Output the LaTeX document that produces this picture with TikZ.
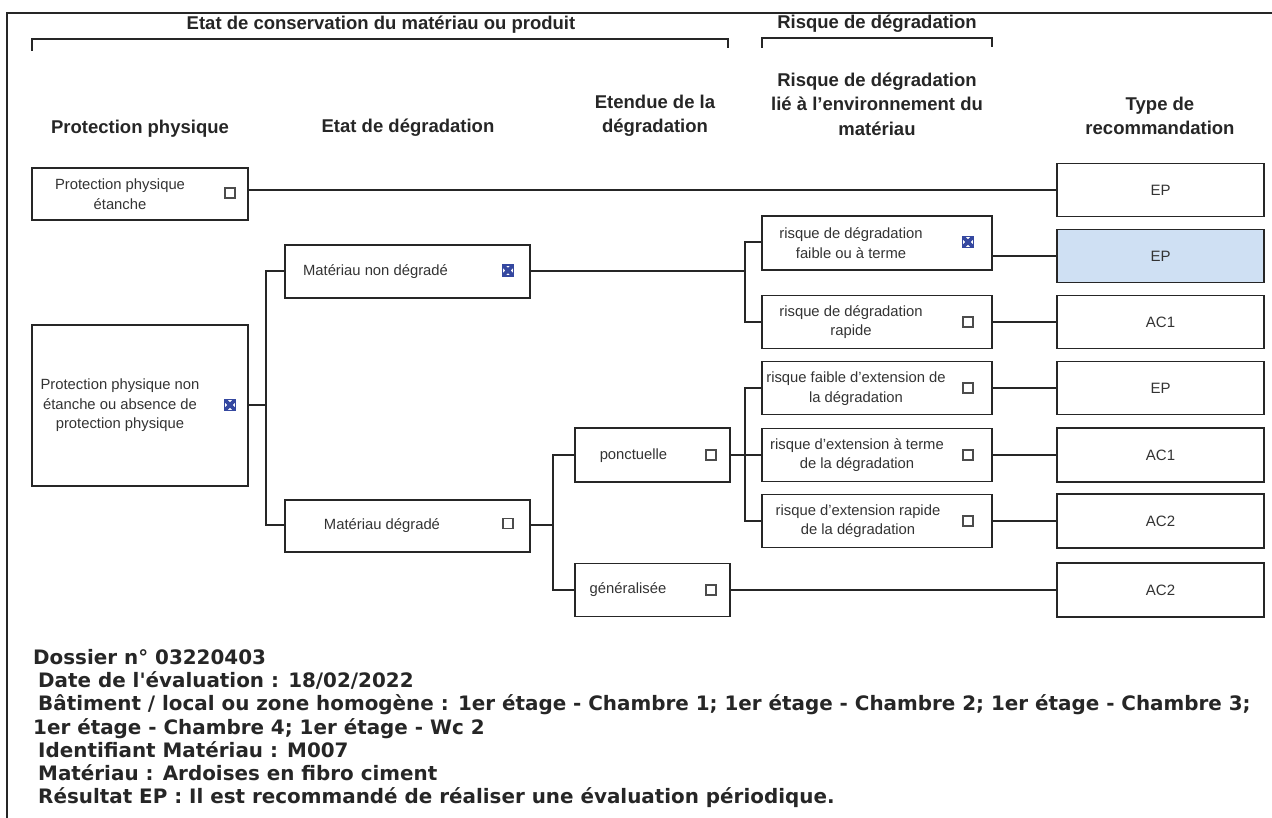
\documentclass[tikz,border=0pt]{standalone}
\usepackage{fontspec}
\setmainfont{Liberation Sans}
\newfontfamily\notefont{DejaVu Sans}
\begin{document}
\begin{tikzpicture}[x=1pt,y=-1pt,
  box/.style={draw=black!85, line width=1.7pt, inner sep=0pt, rectangle},
  colbox/.style={box, minimum width=230pt},
  recbox/.style={box, minimum width=207pt, font=\fontsize{15}{17}\selectfont, text=black!80},
  lbl/.style={align=center, font=\fontsize{14.8}{19.5}\selectfont, text=black!80, inner sep=0pt},
  head/.style={align=center, font=\bfseries\fontsize{18.5}{24.5}\selectfont, text=black!85, inner sep=0pt},
  chk/.style={draw=black!70, line width=1.2pt, minimum size=10pt, inner sep=0pt, rectangle},
  ticked/.style={draw=tickblue, line width=1.4pt, minimum size=11pt, inner sep=0pt, rectangle,
    path picture={\draw[tickblue, line width=3.8pt]
      (path picture bounding box.north west) -- (path picture bounding box.south east)
      (path picture bounding box.north east) -- (path picture bounding box.south west);}},
  link/.style={draw=black!85, line width=1.8pt},
  note/.style={anchor=base west, inner sep=0pt, font=\notefont\bfseries\fontsize{19.9}{23}\selectfont, text=black!85}
]
\definecolor{tickblue}{HTML}{3548A0}
\definecolor{chosen}{HTML}{CFE0F3}
\useasboundingbox (0,0) rectangle (1272,818);

% outer frame (top and left edges)
\draw[line width=1.6pt, black!85] (1272,13) -- (7,13) -- (7,818);

% group headers and brackets
\node[head] (g1) at (381,25) {Etat de conservation du matériau ou produit};
\draw[link] (32,51) -- (32,39) -- (728,39) -- (728,48);
\node[head] (g2) at (877,24) {Risque de dégradation};
\draw[link] (762,48) -- (762,38) -- (992,38) -- (992,47);

% column headers
\node[head] (h1) at (140,129) {Protection physique};
\node[head] (h2) at (408,128) {Etat de dégradation};
\node[head] (h3) at (655,116) {Etendue de la\\dégradation};
\node[head] (h4) at (877,104) {Risque de dégradation\\lié à l'environnement du\\matériau};
\node[head] (h5) at (1160,116) {Type de\\recommandation};

% column 1: protection physique
\node[box, minimum width=216pt, minimum height=52pt] (ppe) at (140,194) {};
\node[lbl] (ppe-t) at (120,194) {Protection physique\\étanche};
\node[chk] (ppe-c) at (230,193) {};
\node[box, minimum width=216pt, minimum height=161pt] (ppne) at (140,405.5) {};
\node[lbl] (ppne-t) at (120,405.5) {Protection physique non\\étanche ou absence de\\protection physique};
\node[ticked] (ppne-c) at (230,405) {};

% column 2: etat de degradation
\node[box, minimum width=245pt, minimum height=53pt] (mnd) at (407.5,271.5) {};
\node[lbl] (mnd-t) at (375.5,272) {Matériau non dégradé};
\node[ticked] (mnd-c) at (508,270.5) {};
\node[box, minimum width=245pt, minimum height=52pt] (md) at (407.5,526) {};
\node[lbl] (md-t) at (382,525.5) {Matériau dégradé};
\node[chk] (md-c) at (508,523.5) {};

% column 3: etendue
\node[box, minimum width=155pt, minimum height=54pt] (ponc) at (652.5,455) {};
\node[lbl] (ponc-t) at (633.5,456) {ponctuelle};
\node[chk] (ponc-c) at (711,455) {};
\node[box, minimum width=155pt, minimum height=53pt] (gen) at (652.5,590) {};
\node[lbl] (gen-t) at (628,590) {généralisée};
\node[chk] (gen-c) at (711,590) {};

% column 4: risque lie a l'environnement
\node[colbox, minimum height=54pt] (rdf) at (877,243) {};
\node[lbl] (rdf-t) at (851,243) {risque de dégradation\\faible ou à terme};
\node[ticked] (rdf-c) at (968,242) {};
\node[colbox, minimum height=53pt] (rdr) at (877,322) {};
\node[lbl] (rdr-t) at (851,322) {risque de dégradation\\rapide};
\node[chk] (rdr-c) at (968,322) {};
\node[colbox, minimum height=53pt] (rfe) at (877,388) {};
\node[lbl] (rfe-t) at (856,388.5) {risque faible d'extension de\\la dégradation};
\node[chk] (rfe-c) at (968,388) {};
\node[colbox, minimum height=53pt] (reat) at (877,455) {};
\node[lbl] (reat-t) at (857,455) {risque d'extension à terme\\de la dégradation};
\node[chk] (reat-c) at (968,455) {};
\node[colbox, minimum height=53pt] (rer) at (877,521) {};
\node[lbl] (rer-t) at (858,521) {risque d'extension rapide\\de la dégradation};
\node[chk] (rer-c) at (968,521) {};

% column 5: recommandation
\node[recbox, minimum height=53pt] (ep1) at (1160.5,190) {EP};
\node[recbox, minimum height=53pt, fill=chosen] (ep2) at (1160.5,256) {EP};
\node[recbox, minimum height=53pt] (ac1a) at (1160.5,322) {AC1};
\node[recbox, minimum height=53pt] (ep3) at (1160.5,388) {EP};
\node[recbox, minimum height=54pt] (ac1b) at (1160.5,455) {AC1};
\node[recbox, minimum height=54pt] (ac2a) at (1160.5,521) {AC2};
\node[recbox, minimum height=54pt] (ac2b) at (1160.5,590) {AC2};

% junction points of the tree
\coordinate (j1) at (266,405);
\coordinate (j2) at (745,271);
\coordinate (j3) at (553,525);
\coordinate (j4) at (745,455);

% connectors
\draw[link] (ep1.west) -- (ep1.west -| ppe.east);
\draw[link] (ppne.east |- j1) -- (j1);
\draw[link] (mnd.west |- 0,271) -| (j1) |- (md.west |- j3);
\draw[link] (mnd.east |- j2) -- (j2);
\draw[link] (rdf.west |- 0,242) -| (j2) |- (rdr.west);
\draw[link] (ep2.west) -- (ep2.west -| rdf.east);
\draw[link] (ac1a.west) -- (ac1a.west -| rdr.east);
\draw[link] (md.east |- j3) -- (j3);
\draw[link] (ponc.west) -| (j3) |- (gen.west);
\draw[link] (ponc.east) -- (j4);
\draw[link] (rfe.west) -| (j4) |- (rer.west);
\draw[link] (j4) -- (reat.west);
\draw[link] (rfe.east) -- (ep3.west);
\draw[link] (reat.east) -- (ac1b.west);
\draw[link] (rer.east) -- (ac2a.west);
\draw[link] (gen.east) -- (ac2b.west);

% evaluation summary
\node[note] (n1) at (33,664) {Dossier n° 03220403};
\node[note] (n2) at (38,687) {Date de l'évaluation : 18/02/2022};
\node[note] (n3) at (38,710) {Bâtiment / local ou zone homogène : 1er étage - Chambre 1; 1er étage - Chambre 2; 1er étage - Chambre 3;};
\node[note] (n4) at (33,734) {1er étage - Chambre 4; 1er étage - Wc 2};
\node[note] (n5) at (38,757) {Identifiant Matériau : M007};
\node[note] (n6) at (38,780) {Matériau : Ardoises en fibro ciment};
\node[note] (n7) at (38,803) {Résultat EP : Il est recommandé de réaliser une évaluation périodique.};
\end{tikzpicture}
\end{document}
